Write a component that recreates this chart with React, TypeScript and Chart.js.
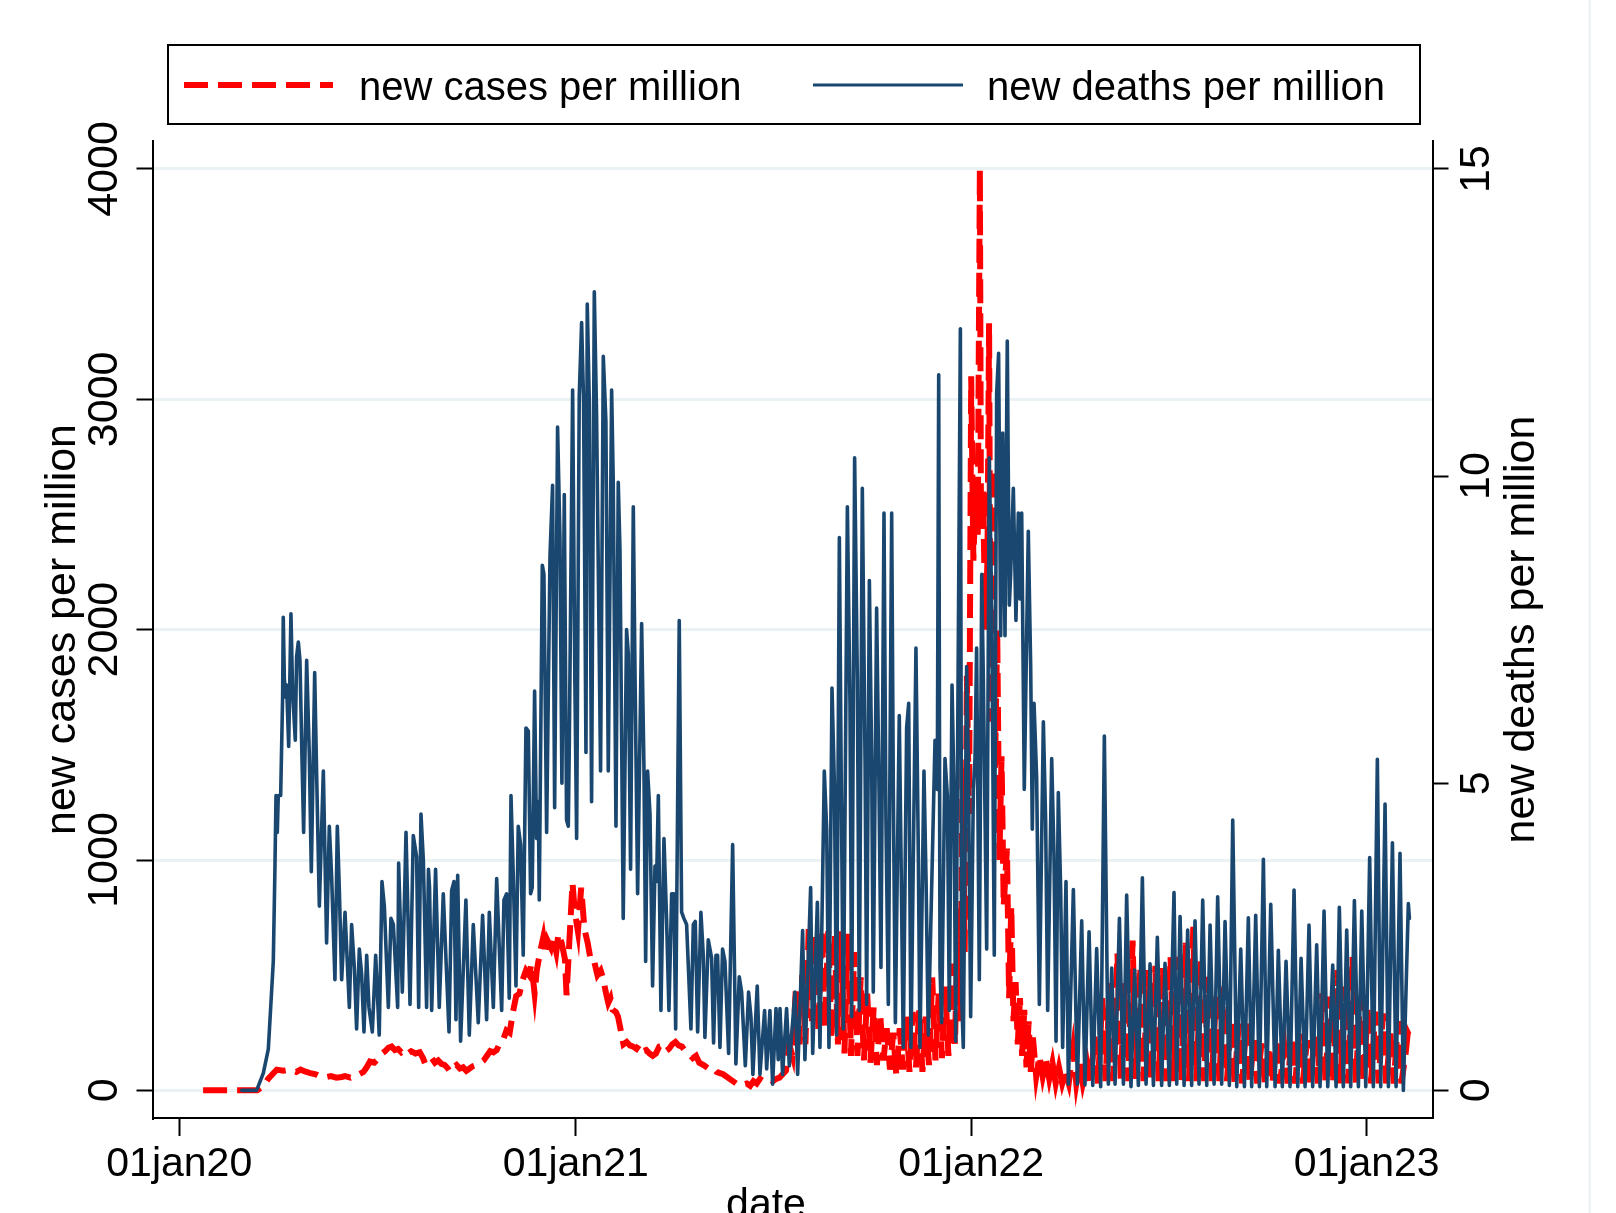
import React, { useEffect, useRef } from 'react';
import { Chart, registerables } from 'chart.js';

Chart.register(...registerables);

// ---- axis ticks (x = days since 01jan2020) ----
const tickDays = [0, 366, 731, 1096];
const tickLabels = ['01jan20', '01jan21', '01jan22', '01jan23'];
const caseTicks = [0, 1000, 2000, 3000, 4000];
const deathTicks = [0, 5, 10, 15];
const legendLabels = ['new cases per million', 'new deaths per million'];
const axisTitles = ['new cases per million', 'new deaths per million', 'date'];

// ---- new cases per million ----
const caseDays = [
  22, 40, 60, 72, 78, 82, 86, 90, 96, 102, 108, 112, 116, 121, 126, 130, 136, 140, 145, 150,
  153, 158, 162, 166, 170, 173, 176, 180, 184, 187, 190, 193, 196, 199, 202, 205, 208, 211, 214, 218,
  222, 225, 227, 230, 233, 236, 239, 242, 245, 248, 250, 253, 256, 259, 262, 265, 268, 271, 274, 278,
  281, 284, 287, 290, 293, 296, 299, 302, 305, 308, 311, 314, 317, 320, 323, 325, 328, 330, 333, 336,
  338, 340, 343, 345, 348, 350, 353, 356, 357.5, 360, 363, 365, 368, 371, 374, 377, 380, 383, 386, 389,
  391, 394, 396, 398, 400, 403, 405, 408, 410, 413, 416, 419, 422, 425, 428, 431, 434, 437, 440, 443,
  446, 449, 452, 455, 458, 461, 464, 467, 470, 474, 477, 480, 484, 487, 490, 493, 496, 499, 502, 505,
  508, 511, 514, 517, 520, 524, 527, 530, 533, 536, 539, 542, 545, 548, 551, 554, 557, 560,
  563, 566, 569, 572, 575, 578, 581, 584, 587, 590, 593, 596, 599, 602, 605, 608, 611, 614, 617, 620,
  623, 626, 629, 632, 635, 638, 641, 644, 647, 650, 653, 656, 659, 662, 665, 668, 671, 674, 677, 680,
  683, 686, 689, 692, 695, 698, 701, 704, 707, 710, 713, 716, 719, 721, 723, 725, 727, 729, 731, 733,
  735, 737, 739, 740, 742, 744, 746, 747.5, 749, 751, 753, 755, 757, 759, 761, 764, 766, 768, 770, 772,
  774, 776, 778, 780, 782, 784, 786, 788, 791, 794, 797, 800, 803, 806, 809, 812, 815, 818, 821, 825, 828,
  831, 834, 838, 841, 845, 848, 852, 855, 859, 862, 866, 869, 873, 876, 880, 883, 887, 890, 894, 897,
  901, 904, 908, 911, 915, 918, 922, 925, 929, 932, 936, 939, 943, 946, 950, 953, 957, 960, 964, 967,
  971, 974, 978, 981, 985, 988, 992, 995, 999, 1002, 1006, 1009, 1013, 1016, 1020, 1023, 1027, 1030, 1034, 1037,
  1041, 1044, 1048, 1051, 1055, 1058, 1062, 1065, 1069, 1072, 1076, 1079, 1083, 1086, 1090, 1093, 1097, 1100, 1104, 1107,
  1111, 1114, 1118, 1121, 1125, 1128, 1132, 1134, 1136,
];
const caseValues = [
  0, 0, 0, 0, 20, 50, 70, 90, 85, 90, 80, 90, 82, 75, 70, 60, 58, 62, 55, 58,
  62, 55, 63, 70, 80, 100, 125, 120, 140, 160, 170, 185, 190, 175, 180, 165, 175, 160, 170, 160,
  165, 140, 115, 130, 140, 120, 130, 115, 110, 95, 80, 100, 110, 95, 100, 85, 95, 105, 110, 120,
  130, 150, 170, 165, 175, 206, 220, 260, 250, 340, 410, 420, 480, 520, 500, 550, 420, 520, 600, 665,
  590, 650, 620, 665, 600, 680, 640, 570, 413, 640, 900, 780, 690, 880, 700, 640, 560, 560, 500, 520,
  490, 420, 380, 400, 350, 340, 320, 250, 200, 210, 195, 190, 180, 200, 170, 175, 160, 150, 160, 190,
  195, 170, 180, 200, 210, 195, 190, 170, 160, 140, 150, 120, 110, 100, 90, 95, 80, 75, 70, 60,
  50, 40, 30, 20, 25, 30, 20, 40, 30, 50, 40, 35, 45, 40, 50, 55, 70, 85,
  200, 150, 430, 200, 500, 200, 700, 300, 680, 250, 700, 270, 690, 220, 680, 200, 690, 160, 680, 150,
  600, 150, 490, 130, 420, 120, 360, 110, 330, 130, 270, 90, 250, 60, 270, 90, 320, 80, 340, 100,
  350, 80, 320, 110, 490, 130, 420, 140, 450, 150, 550, 200, 800, 300, 1400, 600, 1800, 1200, 3100, 2300,
  2600, 2400, 4000, 2500, 2600, 2000, 2300, 3330, 1600, 2700, 1400, 2000, 1000, 1450, 800, 1050, 400, 800, 300, 470,
  200, 400, 150, 350, 100, 300, 80, 230, 60, 150, 60, 130, 50, 120, 30, 100, 30, 80, 30, 180, 30,
  120, 30, 117, 30, 233, 30, 400, 40, 465, 40, 595, 50, 465, 40, 650, 50, 537, 40, 522, 40,
  540, 40, 537, 40, 580, 40, 580, 40, 640, 40, 710, 40, 573, 40, 493, 40, 407, 40, 450, 40,
  305, 30, 290, 30, 290, 30, 218, 30, 204, 30, 190, 30, 204, 30, 190, 30, 233, 30, 247, 30,
  218, 30, 233, 30, 421, 30, 407, 30, 522, 30, 450, 30, 580, 30, 407, 30, 349, 30, 342, 30,
  334, 30, 247, 30, 300, 30, 160, 250, 230,
];

// ---- new deaths per million ----
const deathDays = [
  57.6, 71.4, 77.6, 82.2, 85.3, 86.8, 88.3, 89.3, 90.5, 91.4, 93.6, 95.4, 96, 97, 98.2, 99.1, 101, 103.1, 104.6, 107.1,
  108.3, 109.9, 111.4, 113.3, 114.8, 117.6, 120, 121.9, 125, 126.8, 129.3, 133, 136, 138.5, 140.6, 143.7, 145.9, 147.7, 149.9, 153,
  157, 159.1, 161.6, 163.7, 166.2, 168.3, 170.5, 173, 175.1, 178.2, 181.3, 184.6, 187.1, 189.3, 193, 195.4, 197.6, 201.6, 202.5, 205.9,
  209.3, 213, 216, 219.1, 221, 223.1, 225.3, 228.3, 230, 231, 233, 236.6, 240, 243.7, 249, 251.4, 253.6, 255.4, 257, 259.7,
  264.6, 267.7, 271.4, 276, 280, 283.7, 286.2, 289.9, 293, 297.6, 299.7, 302.2, 304.6, 306.2, 308.3, 310.8, 312.9, 315.1, 317.5,
  320, 322.2, 324.3, 325.8, 328, 329.8, 331.4, 332.3, 335.1, 336.6, 339.1, 342.2, 344.6, 346.5, 349.2, 351.4, 353.2, 355.4, 357.5, 359.1,
  360, 363.1, 365.2, 366.8, 369.2, 371.4, 373.2, 375.4, 376.6, 378.5, 380.6, 383.1, 385.2, 388.9, 391.4, 393.8, 396, 399.1, 400.6, 403.1,
  405.2, 406.8, 409.8, 412.9, 414.5, 416.6, 419.1, 420.6, 423.1, 426.8, 428.9, 430.5, 432.3, 434.5, 436.9, 439.1, 440.6, 442.2, 444.6, 447.4,
  449.8, 452, 454.5, 456.6, 458.2, 461.5, 463.7, 465.8, 468.3, 472.3, 474.5, 476.3, 478.5, 481.5, 483.7, 485.2, 488.3, 491.4, 493.2, 495.4,
  496.9, 499.1, 501.5, 503.7, 507.1, 510.8, 513.8, 516.9, 519.1, 522.5, 525.5, 527.7, 529.5, 533.5, 536, 540.3, 542.2, 545.2, 547.7, 550.8,
  552.9, 554.5, 556.9, 560.6, 563.1, 568.3, 570.8,
  575.4, 577.5, 582.8, 584.7, 589, 591.4, 595.4, 597.6, 599.7, 602.5, 604.7, 606.8, 609.3, 611.4, 613, 616.7, 619.1, 620.7, 623.4, 625.9,
  627.7, 630.5, 633, 634.5, 637, 639.1, 640.6, 643.7, 645.9, 647.7, 650.5, 652.3, 654.5, 657.6, 659.1, 661, 664.6, 666.2, 668.3, 671.4,
  673.3, 675.4, 680, 682.2, 683.7, 687.4, 689.3, 691.4, 697.6, 699.7, 701, 702.2, 703.7, 706.8, 709, 710.8, 713.3, 715.1, 716.7, 721,
  722.2, 723.7, 726.8, 728.3, 730.5, 733, 734.5, 736, 738.5, 740.7, 742.2, 745.3, 747.7, 749.9, 752.3, 754.5, 756.3, 758.2, 760.1, 762.2,
  764.3, 766.2, 767.4, 769.9, 772.3, 774.5, 776, 777.6, 780, 783.7, 785.9, 787.4, 789, 791.4, 793.9, 797.6, 799.7, 801.6, 805.3, 807.4,
  809.3, 811.4, 813.6, 815.4, 818.5, 820.7,
  825.3, 829, 833, 836, 839.8, 843.2, 846.8, 850.5, 853.9, 857.6, 860.7, 863.8, 867.8, 871.5, 874.5, 878.5, 881.9, 885.3, 889, 892.4,
  896.1, 899.2, 902.8, 906.8, 909.9, 913.9, 918.2, 920.7, 923.8, 927.5, 930.8, 934.5, 937.6, 941.3, 944.7, 948.4, 951.5, 955.2, 958.5, 962.2,
  965.3, 969.3, 972.4, 976.1, 979.8, 983.2, 986.8, 989.9, 993.6, 997, 1000.7, 1003.8, 1007.5, 1011.5, 1014.5, 1018.2, 1021.6, 1025.3, 1029, 1032.4,
  1035.5, 1039.2, 1042.8, 1046.2, 1049.9, 1053, 1056.7, 1060.1, 1064.7, 1067.8, 1070.8, 1074.5, 1077.6, 1081.3, 1084.7, 1088.4, 1091.5, 1095.2, 1098.8, 1102.2,
  1105.9, 1109, 1113, 1116.1, 1119.8, 1123.2, 1126.8, 1129.9, 1134.5, 1135.5,
];
const deathValues = [
  0, 0, 0.28, 0.67, 1.63, 2.1, 3.6, 4.8, 4.2, 4.8, 4.8, 6.4, 7.7, 6.7, 6.4, 6.6, 5.6, 7.76, 6.5, 5.7,
  7.06, 7.3, 7.0, 5.4, 4.2, 7.0, 5.5, 3.56, 6.8, 5.15, 3.0, 5.2, 2.4, 4.3, 3.5, 1.8, 4.3, 3.3, 1.8, 2.9,
  1.35, 2.7, 2.0, 1.0, 2.3, 1.9, 0.95, 2.2, 1.35, 0.95, 2.2, 0.9, 3.4, 3.0, 1.35, 2.8, 2.7, 1.35, 3.7, 1.6,
  4.2, 1.4, 4.15, 3.8, 1.35, 4.5, 3.75, 1.35, 3.6, 3.3, 1.3, 3.6, 1.35, 3.2, 0.95, 3.25, 3.4, 1.15, 3.5, 0.8,
  3.1, 0.9, 2.7, 1.1, 2.85, 1.15, 2.9, 1.35, 3.45, 1.3, 3.1, 3.2, 1.5, 4.8, 3.5, 1.7, 4.3, 4.0, 2.2,
  5.9, 5.85, 3.2, 3.3, 6.5, 4.1, 4.7, 3.1, 8.55, 8.4, 4.2, 8.7, 9.85, 4.6, 10.8, 9.0, 5.0, 9.7, 4.4, 4.3,
  5.6, 11.4, 6.6, 4.1, 11.3, 12.5, 11.2, 5.5, 12.8, 11.2, 4.7, 13.0, 11.0, 5.2, 11.95, 10.9, 5.2, 11.4, 9.9, 4.3,
  9.9, 8.8, 2.8, 7.5, 7.1, 3.6, 9.5, 6.9, 3.2, 7.6, 5.3, 2.1, 5.2, 4.5, 1.7, 3.65, 3.4, 4.8, 1.3, 4.1,
  2.8, 1.3, 3.2, 3.2, 1.0, 7.65, 2.9, 2.8, 2.7, 1.0, 2.7, 2.75, 0.95, 2.9, 2.2, 0.86, 2.45, 2.15, 0.77, 2.2,
  2.2, 0.7, 2.3, 2.1, 0.6, 4.0, 0.43, 1.85, 1.6, 0.4, 1.6, 1.2, 0.26, 1.7, 0.26, 1.3, 0.35, 1.3, 0.1, 1.33,
  0.5, 1.33, 0.26, 1.33, 0.4, 1.6, 0.26,
  2.6, 0.5, 3.3, 0.6, 3.06, 0.7, 5.2, 4.25, 0.7, 6.55, 5.0, 0.9, 9.0, 4.25, 1.0, 9.5, 6.3, 1.2, 10.3, 6.7,
  1.3, 9.8, 5.4, 1.4, 8.3, 5.4, 1.6, 7.85, 4.9, 2.0, 9.4, 4.4, 1.4, 9.4, 4.9, 1.1, 6.1, 3.85, 0.7, 5.9,
  6.3, 0.7, 7.2, 3.85, 0.7, 5.2, 3.45, 0.9, 5.7, 4.9, 11.65, 2.0, 1.1, 5.4, 4.8, 1.3, 6.6, 4.9, 0.8, 12.4,
  1.5, 0.7, 6.9, 5.4, 1.2, 4.9, 5.4, 7.2, 1.8, 8.4, 6.7, 2.3, 10.3, 7.9, 2.2, 11.35, 12.0, 7.4, 10.7, 7.4,
  12.2, 7.9, 8.4, 9.8, 7.65, 9.4, 8.0, 9.4, 4.9, 9.1, 6.9, 4.25, 6.3, 5.1, 1.4, 6.0, 4.4, 1.3, 5.4, 3.85,
  0.8, 4.85, 3.26, 0.7, 3.4, 0.1,
  3.27, 0.1, 2.76, 0.09, 2.58, 0.08, 2.31, 0.06, 5.77, 0.1, 1.99, 0.1, 2.8, 0.1, 3.18, 0.06, 1.96, 0.08, 3.46, 0.1,
  2.06, 0.08, 2.49, 0.08, 2.07, 0.08, 3.22, 0.1, 2.83, 0.08, 2.61, 0.08, 2.76, 0.1, 3.1, 0.08, 2.69, 0.1, 3.15, 0.1,
  2.75, 0.08, 4.4, 0.06, 2.3, 0.06, 2.81, 0.06, 2.85, 0.06, 3.76, 0.06, 3.03, 0.06, 2.28, 0.06, 2.1, 0.06, 3.26, 0.06,
  2.15, 0.06, 2.69, 0.06, 2.37, 0.06, 2.92, 0.06, 2.04, 0.06, 2.98, 0.06, 2.61, 0.06, 3.09, 0.06, 2.92, 0.06, 3.79, 0.06,
  5.39, 0.06, 4.66, 0.06, 4.03, 0.06, 3.86, 0.0, 3.04, 2.8,
];

const W = 1616;
const H = 1213;
const FONT = '"Liberation Sans", Arial, Helvetica, sans-serif';

const decorPlugin = {
  id: 'decor',
  afterDraw(chart: any) {
    const ctx = chart.ctx as CanvasRenderingContext2D;
    const area = chart.chartArea;
    ctx.save();
    // faint outer frame line at right
    ctx.strokeStyle = '#e9eff1';
    ctx.lineWidth = 2;
    ctx.beginPath();
    ctx.moveTo(1589.5, 0);
    ctx.lineTo(1589.5, H);
    ctx.stroke();

    // legend box
    ctx.strokeStyle = '#000';
    ctx.lineWidth = 2;
    ctx.strokeRect(168, 45, 1252, 79);
    // red dashed sample
    ctx.strokeStyle = '#ff0000';
    ctx.lineWidth = 6;
    ctx.setLineDash([24, 10]);
    ctx.beginPath();
    ctx.moveTo(184, 85);
    ctx.lineTo(333, 85);
    ctx.stroke();
    // navy sample
    ctx.setLineDash([]);
    ctx.strokeStyle = '#1a476f';
    ctx.lineWidth = 3;
    ctx.beginPath();
    ctx.moveTo(813, 85);
    ctx.lineTo(963, 85);
    ctx.stroke();
    ctx.fillStyle = '#000';
    ctx.font = `40px ${FONT}`;
    ctx.textAlign = 'left';
    ctx.textBaseline = 'alphabetic';
    ctx.fillText(legendLabels[0], 359, 100);
    ctx.fillText(legendLabels[1], 987, 100);

    // right axis title (reads bottom to top)
    ctx.save();
    ctx.translate(1522, (area.top + area.bottom) / 2);
    ctx.rotate(-Math.PI / 2);
    ctx.font = `43px ${FONT}`;
    ctx.textAlign = 'center';
    ctx.textBaseline = 'middle';
    ctx.fillText(axisTitles[1], 0, 0);
    ctx.restore();

    // x axis title
    ctx.font = `41px ${FONT}`;
    ctx.textAlign = 'center';
    ctx.textBaseline = 'alphabetic';
    ctx.fillText(axisTitles[2], 766, 1217);
    ctx.restore();
  },
};

export default function App() {
  const ref = useRef<HTMLCanvasElement | null>(null);

  useEffect(() => {
    document.body.style.margin = '0';
    document.body.style.overflow = 'hidden';
    document.documentElement.style.overflow = 'hidden';
    const canvas = ref.current;
    if (!canvas) return;

    const casePoints = caseDays.map((d, i) => ({ x: d, y: caseValues[i] }));
    const deathPoints = deathDays.map((d, i) => ({ x: d, y: deathValues[i] }));

    const xMin = -24.7;
    const xMax = 1156.8;
    const yMin = -120;
    const yMax = 4121.5;
    const ratio = 15 / 4000;

    const chart = new Chart(canvas, {
      type: 'line',
      data: {
        datasets: [
          {
            label: legendLabels[0],
            data: casePoints,
            yAxisID: 'y',
            borderColor: '#ff0000',
            backgroundColor: '#ff0000',
            borderWidth: 6,
            borderDash: [24, 10],
            pointRadius: 0,
            tension: 0,
            fill: false,
            order: 1,
          },
          {
            label: legendLabels[1],
            data: deathPoints,
            yAxisID: 'y1',
            borderColor: '#1a476f',
            backgroundColor: '#1a476f',
            borderWidth: 3.6,
            borderJoinStyle: 'round',
            borderCapStyle: 'round',
            pointRadius: 0,
            tension: 0,
            fill: false,
            order: 0,
          },
        ],
      },
      options: {
        responsive: false,
        animation: false,
        devicePixelRatio: 1,
        events: [],
        layout: { padding: { top: 141, left: 0, right: 0, bottom: 0 } },
        plugins: {
          legend: { display: false },
          tooltip: { enabled: false },
          title: { display: false },
        },
        scales: {
          x: {
            type: 'linear',
            position: 'bottom',
            min: xMin,
            max: xMax,
            afterBuildTicks: (s: any) => {
              s.ticks = tickDays.map((v) => ({ value: v }));
            },
            afterFit: (s: any) => {
              s.height = 95;
            },
            ticks: {
              autoSkip: false,
              maxRotation: 0,
              minRotation: 0,
              color: '#000',
              padding: 4.5,
              font: { family: FONT, size: 41 },
              callback: (v: any) => {
                const i = tickDays.indexOf(Number(v));
                return i >= 0 ? tickLabels[i] : '';
              },
            },
            grid: {
              display: true,
              drawOnChartArea: false,
              drawTicks: true,
              tickLength: 18,
              tickWidth: 2,
              tickColor: '#000',
            },
            border: { display: true, color: '#000', width: 2 },
          },
          y: {
            type: 'linear',
            position: 'left',
            min: yMin,
            max: yMax,
            afterBuildTicks: (s: any) => {
              s.ticks = caseTicks.map((v) => ({ value: v }));
            },
            afterFit: (s: any) => {
              s.width = 152.5;
            },
            ticks: {
              color: '#000',
              minRotation: 90,
              maxRotation: 90,
              crossAlign: 'center',
              padding: -16.6,
              font: { family: FONT, size: 43 },
              callback: (v: any) => String(v),
            },
            grid: {
              display: true,
              drawOnChartArea: true,
              color: '#eaf2f3',
              lineWidth: 3,
              drawTicks: true,
              tickLength: 16,
              tickWidth: 2,
              tickColor: '#000',
            },
            border: { display: true, color: '#000', width: 2 },
            title: {
              display: true,
              text: axisTitles[0],
              color: '#000',
              font: { family: FONT, size: 43 },
              padding: { top: 37, bottom: 0 },
            },
          },
          y1: {
            type: 'linear',
            position: 'right',
            min: yMin * ratio,
            max: yMax * ratio,
            afterBuildTicks: (s: any) => {
              s.ticks = deathTicks.map((v) => ({ value: v }));
            },
            afterFit: (s: any) => {
              s.width = 183.5;
            },
            ticks: {
              color: '#000',
              minRotation: 90,
              maxRotation: 90,
              crossAlign: 'center',
              padding: 5,
              font: { family: FONT, size: 43 },
              callback: (v: any) => String(v),
            },
            grid: {
              display: true,
              drawOnChartArea: false,
              drawTicks: true,
              tickLength: 16,
              tickWidth: 2,
              tickColor: '#000',
            },
            border: { display: true, color: '#000', width: 2 },
          },
        },
      } as any,
      plugins: [decorPlugin],
    });

    return () => {
      chart.destroy();
    };
  }, []);

  return (
    <div style={{ width: W, height: H, background: '#fff' }}>
      <canvas
        ref={ref}
        width={W}
        height={H}
        style={{ display: 'block', width: W, height: H, background: '#fff' }}
      />
    </div>
  );
}
